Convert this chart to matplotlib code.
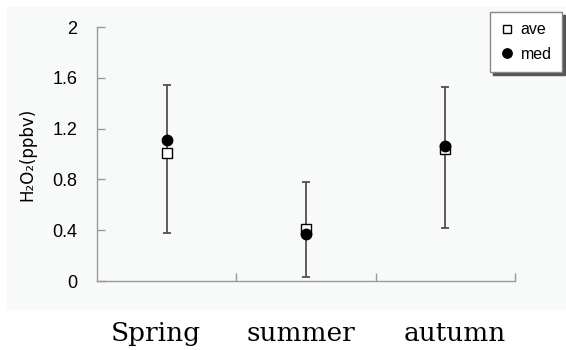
import numpy as np
from matplotlib import pyplot as plt
from matplotlib.patches import Rectangle

seasons = ["Spring", "summer", "autumn"]
ave = [1.01, 0.41, 1.04]
med = [1.11, 0.37, 1.06]
err_top = [1.54, 0.78, 1.53]
err_bottom = [0.38, 0.03, 0.42]

fig = plt.figure(figsize=(5.66, 3.5), dpi=100)
fig.patch.set_facecolor("white")
fig.patches.append(Rectangle((7/566, 40/350), 559/566, 303/350, transform=fig.transFigure,
                             facecolor="#f8f9f9", edgecolor="none", zorder=-10))

ax = fig.add_axes([97/566, 69/350, 418/566, 254/350])
ax.set_facecolor("none")

x = np.arange(len(seasons)) + 0.5
ave = np.array(ave)
lo = ave - np.array(err_bottom)
hi = np.array(err_top) - ave
ax.errorbar(x, ave, yerr=[lo, hi], fmt="none", ecolor="#505050", elinewidth=1.3,
            capsize=3, capthick=1.3, zorder=2)
ax.plot(x, ave, "s", ms=7, mfc="white", mec="black", mew=1, ls="none", label="ave", zorder=3)
ax.plot(x, med, "o", ms=7.5, mfc="black", mec="black", ls="none", label="med", zorder=4)

ax.set_xlim(0, 3)
ax.set_ylim(0, 2)
ax.set_yticks([0, 0.4, 0.8, 1.2, 1.6, 2])
ax.set_yticklabels(["0", "0.4", "0.8", "1.2", "1.6", "2"])
ax.set_xticks([1, 2, 3])
ax.set_xticklabels([])
# category labels sit a little off the group centres in the original
ax.set_xticks([0.42, 1.46, 2.57], minor=True)
ax.set_xticklabels(seasons, minor=True, family="DejaVu Serif", fontsize=19)
ax.tick_params(axis="x", which="minor", length=0, pad=29)
ax.tick_params(axis="both", which="major", direction="in", length=6, color="#999999", width=1)
ax.tick_params(axis="y", labelsize=13, pad=14)
for t in ax.get_yticklabels():
    t.set_family("Liberation Sans")

for s in ["top", "right"]:
    ax.spines[s].set_visible(False)
for s in ["left", "bottom"]:
    ax.spines[s].set_color("#999999")
    ax.spines[s].set_linewidth(1)

ax.set_ylabel("H₂O₂(ppbv)", family="DejaVu Sans", fontsize=12, labelpad=12)

leg = ax.legend(loc="upper right", bbox_to_anchor=(562/566, 1 - 12/350),
                bbox_transform=fig.transFigure, borderaxespad=0, fancybox=False,
                shadow={"ox": 2, "oy": -2, "color": "#555555", "alpha": 1},
                handletextpad=0.45, handlelength=0.8, markerscale=0.9,
                borderpad=0.65, labelspacing=0.6, prop={"family": "Liberation Sans", "size": 11.5})
leg.get_frame().set_edgecolor("#888888")
leg.get_frame().set_linewidth(1)

plt.savefig("out.png", dpi=100)
